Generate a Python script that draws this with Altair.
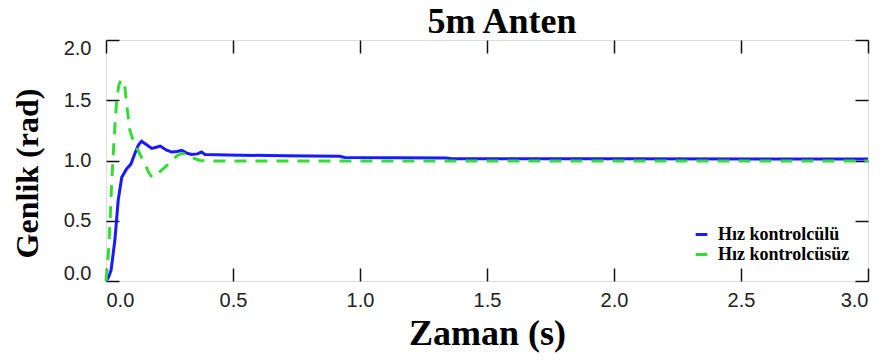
import altair as alt
import pandas as pd

# ---- data ----
title_text = ["5m Anten"]
series_names = ["Hız kontrolcülü", "Hız kontrolcüsüz"]
series_colors = ["#1a1aff", "#33dd33"]

t_blue = [0.000, 0.010, 0.020, 0.035, 0.048, 0.062, 0.081, 0.098, 0.114, 0.128,
          0.140, 0.160, 0.180, 0.198, 0.213, 0.239, 0.259, 0.280, 0.298, 0.320,
          0.337, 0.360, 0.376, 0.390, 0.480, 0.700, 0.920, 0.940, 1.340, 1.360,
          2.000, 3.000]
v_blue = [0.00, 0.03, 0.09, 0.34, 0.67, 0.86, 0.93, 0.97, 1.06, 1.13,
          1.16, 1.13, 1.10, 1.11, 1.12, 1.085, 1.07, 1.075, 1.085, 1.06,
          1.05, 1.055, 1.07, 1.05, 1.045, 1.04, 1.035, 1.025, 1.02, 1.015,
          1.015, 1.012]

t_green = [0.000, 0.005, 0.010, 0.016, 0.022, 0.029, 0.036, 0.042, 0.050, 0.059,
           0.068, 0.075, 0.081, 0.088, 0.094, 0.105, 0.114, 0.134, 0.154, 0.168,
           0.182, 0.200, 0.219, 0.240, 0.259, 0.280, 0.298, 0.320, 0.345, 0.370,
           0.400, 3.000]
v_green = [0.00, 0.10, 0.25, 0.50, 0.80, 1.07, 1.32, 1.50, 1.62, 1.67,
           1.65, 1.60, 1.47, 1.35, 1.25, 1.18, 1.14, 1.05, 0.97, 0.90,
           0.86, 0.885, 0.92, 0.96, 1.00, 1.04, 1.06, 1.05, 1.02, 1.00,
           0.995, 0.995]

x_ticks = [0.0, 0.5, 1.0, 1.5, 2.0, 2.5, 3.0]
y_ticks = [0.0, 0.5, 1.0, 1.5, 2.0]

df_blue = pd.DataFrame({"t": t_blue, "v": v_blue, "seri": series_names[0]})
df_green = pd.DataFrame({"t": t_green, "v": v_green, "seri": series_names[1]})
df_all = pd.concat([df_green, df_blue], ignore_index=True)
df_title = pd.DataFrame({"label": title_text})

TICK = 13
SERIF = "Liberation Serif"
SANS = "Liberation Sans"
W, H = 762, 241

x_scale = alt.Scale(domain=[0, 3], nice=False, zero=False)
y_scale = alt.Scale(domain=[0, 2], nice=False, zero=False)
color_scale = alt.Scale(domain=series_names, range=series_colors)

x_main = alt.X("t:Q", scale=x_scale, title="Zaman (s)",
               axis=alt.Axis(orient="bottom", values=x_ticks, format=".1f",
                             offset=-TICK, tickSize=TICK, domain=False, grid=False,
                             tickColor="#111", tickWidth=1.5, labelFlush=True,
                             labelFont=SANS, labelFontSize=20, labelColor="#222",
                             labelPadding=9, titleFont=SERIF, titleFontSize=36,
                             titleFontWeight="bold", titleColor="black",
                             titlePadding=6))
y_main = alt.Y("v:Q", scale=y_scale, title="Genlik (rad)",
               axis=alt.Axis(orient="left", values=y_ticks, format=".1f",
                             offset=-TICK, tickSize=TICK, domain=False, grid=False,
                             tickColor="#111", tickWidth=1.5, labelFlush=True,
                             labelFlushOffset=2,
                             labelFont=SANS, labelFontSize=20, labelColor="#222",
                             labelPadding=15, titleFont=SERIF, titleFontSize=32,
                             titleFontWeight="bold", titleColor="black",
                             titlePadding=19, titleY=133))

blue_line = alt.Chart(df_blue).mark_line(strokeWidth=3).encode(
    x=x_main,
    y=y_main,
    color=alt.Color("seri:N", scale=color_scale,
                    legend=alt.Legend(title=None, orient="none", legendX=585, legendY=184,
                                      symbolType="M-0.65,0H0.65", symbolSize=324,
                                      symbolStrokeWidth=3, labelFont=SERIF,
                                      labelFontSize=18, labelFontWeight="bold",
                                      labelColor="black", rowPadding=0,
                                      labelOffset=6)),
    order=alt.Order("t:Q"),
)

green_line = alt.Chart(df_green).mark_line(strokeWidth=3, strokeDash=[12, 9]).encode(
    x=alt.X("t:Q", scale=x_scale, axis=None),
    y=alt.Y("v:Q", scale=y_scale, axis=None),
    color=alt.Color("seri:N", scale=color_scale, legend=None),
    order=alt.Order("t:Q"),
)

mirror = alt.Chart(df_all).mark_point(opacity=0).encode(
    x=alt.X("t:Q", scale=x_scale, title=None,
            axis=alt.Axis(orient="top", values=x_ticks, labels=False, offset=-TICK,
                          tickSize=TICK, domain=False, grid=False, tickColor="#111",
                          tickWidth=1.5)),
    y=alt.Y("v:Q", scale=y_scale, title=None,
            axis=alt.Axis(orient="right", values=y_ticks, labels=False, offset=-TICK,
                          tickSize=TICK, domain=False, grid=False, tickColor="#111",
                          tickWidth=1.5)),
)

title_mark = alt.Chart(df_title).mark_text(
    font=SERIF, fontSize=36, fontWeight="bold", color="black",
    align="center", baseline="alphabetic",
).encode(
    text="label:N",
    x=alt.value(W / 2 + 15),
    y=alt.value(-7),
)

chart = alt.layer(blue_line, green_line, mirror, title_mark).resolve_axis(
    x="independent", y="independent"
).properties(
    width=W,
    height=H,
    autosize=alt.AutoSizeParams(type="none"),
    padding={"left": 106, "top": 40, "right": 12, "bottom": 79},
).configure_view(stroke="#111", strokeWidth=2, fill="white").configure(background="white")

chart.save("out.html", embed_options={"renderer": "svg", "actions": False})
